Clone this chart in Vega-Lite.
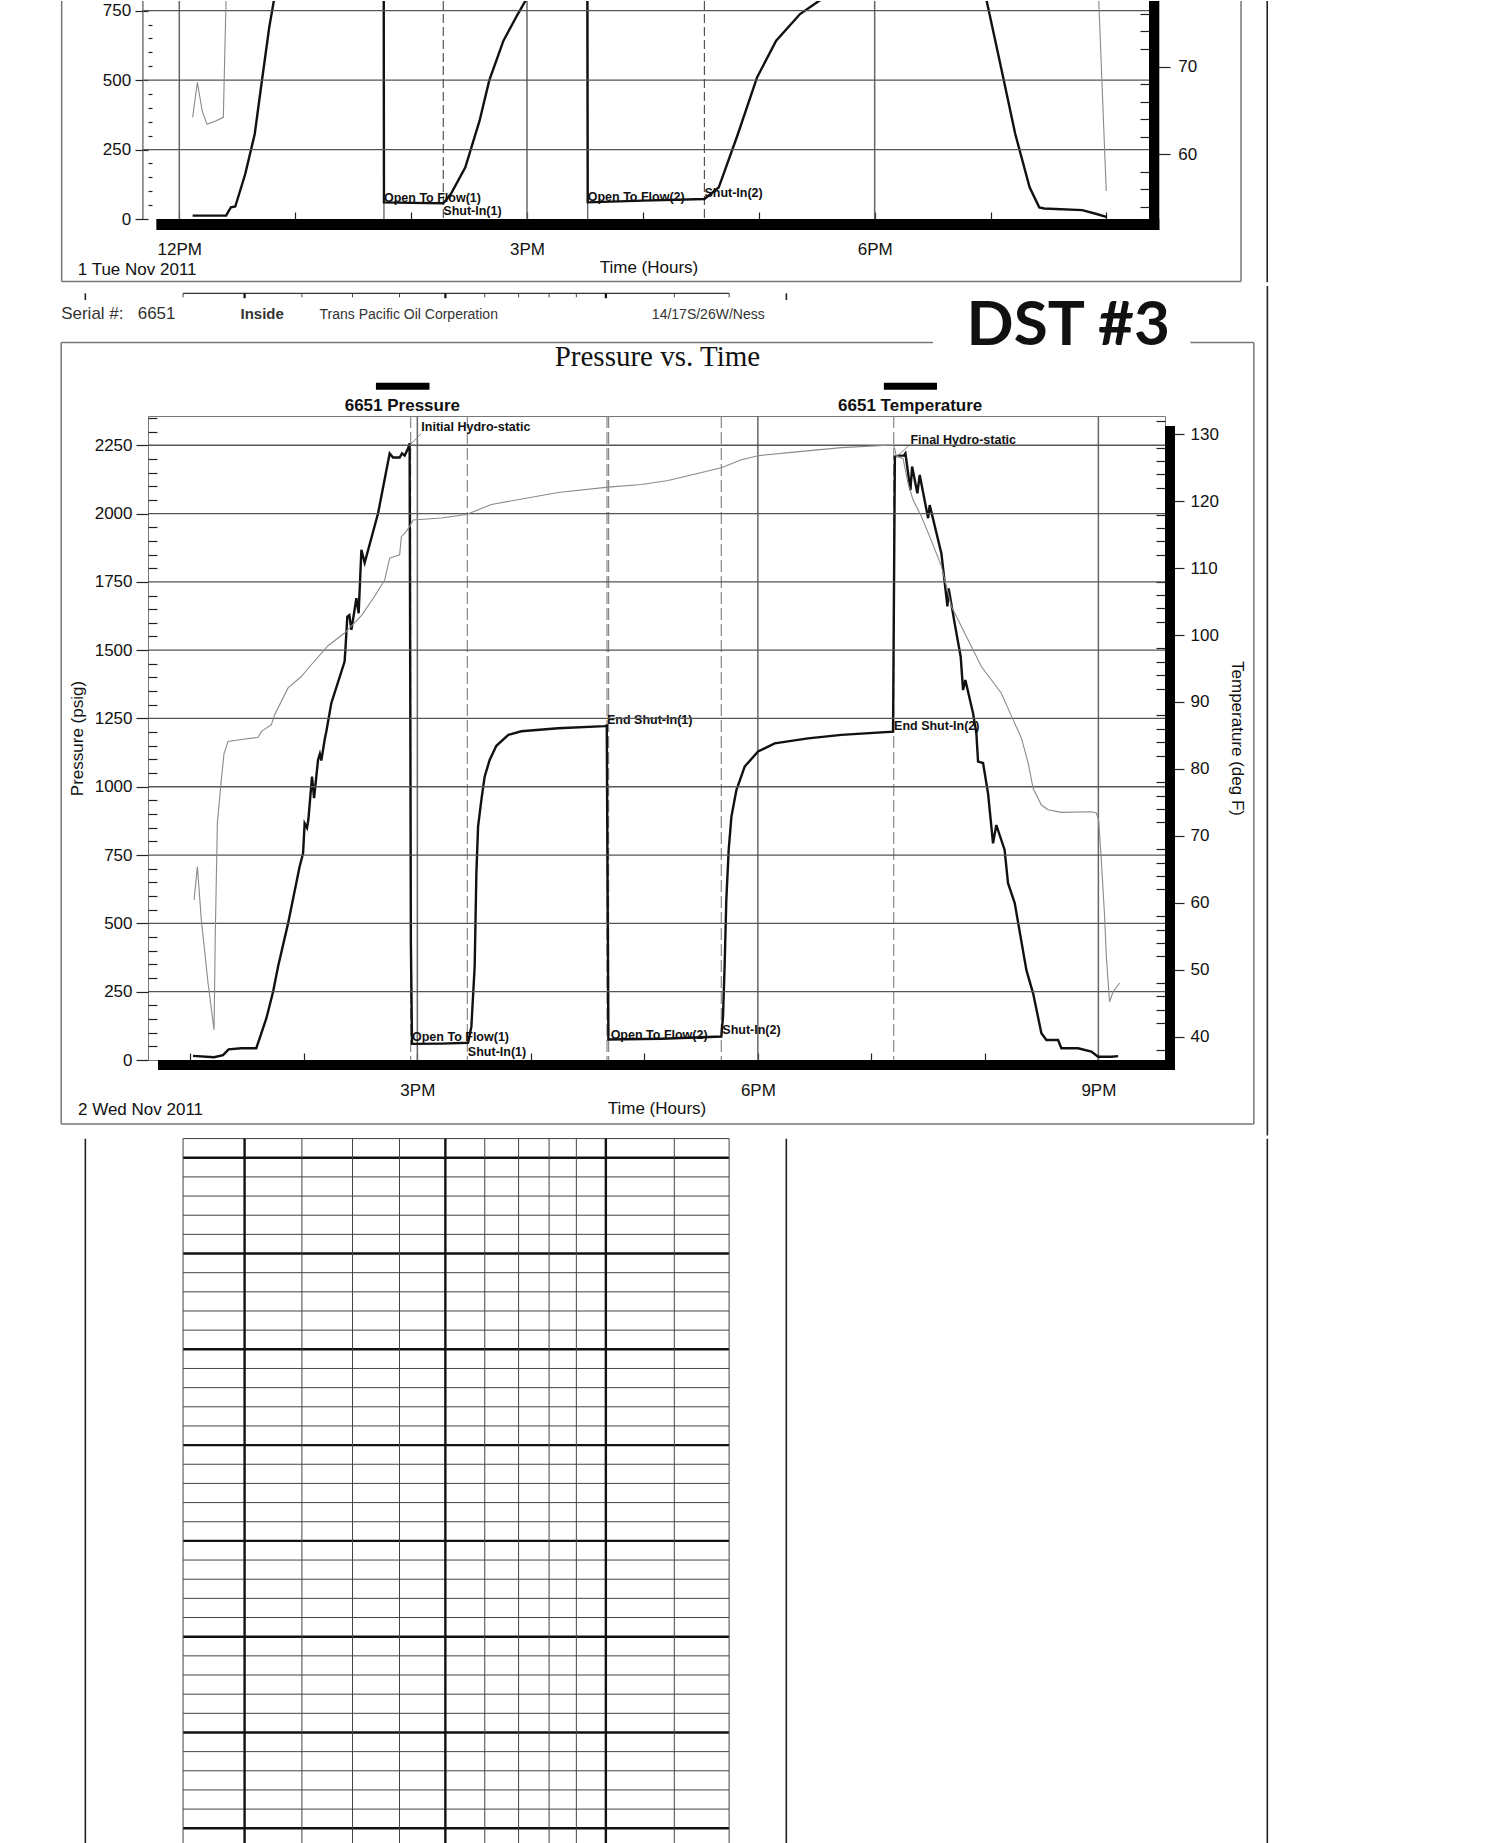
{
"$schema":"https://vega.github.io/schema/vega-lite/v6.json",
"background":"white",
"padding":{"left":59,"top":0,"right":0,"bottom":0},
"spacing":0,
"config":{"view":{"stroke":null},"axis":{"labelFont":"Liberation Sans","titleFont":"Liberation Sans","labelFontSize":17,"titleFontSize":17,"titleFontWeight":"normal","labelColor":"#111","titleColor":"#111","tickColor":"#222","tickWidth":1.2,"domainColor":"#555","labelFlush":false,"labelOverlap":false},"text":{"font":"Liberation Sans","color":"#111"}},
"datasets":{
"p_top":[{"h":12.115,"psi":12},{"h":12.404,"psi":12},{"h":12.445,"psi":42},{"h":12.483,"psi":45},{"h":12.569,"psi":162},{"h":12.651,"psi":306},{"h":12.709,"psi":486},{"h":12.776,"psi":690},{"h":12.816,"psi":786},{"h":12.9,"psi":1000},{"h":13.3,"psi":1700},{"h":13.76,"psi":2150},{"h":13.766,"psi":60},{"h":14.0,"psi":58},{"h":14.278,"psi":57},{"h":14.343,"psi":90},{"h":14.468,"psi":186},{"h":14.591,"psi":354},{"h":14.674,"psi":498},{"h":14.797,"psi":642},{"h":14.921,"psi":738},{"h":14.987,"psi":786},{"h":15.15,"psi":880},{"h":15.52,"psi":960},{"h":15.524,"psi":60},{"h":16.0,"psi":66},{"h":16.531,"psi":72},{"h":16.655,"psi":114},{"h":16.82,"psi":306},{"h":16.985,"psi":510},{"h":17.15,"psi":642},{"h":17.356,"psi":738},{"h":17.522,"psi":786},{"h":17.9,"psi":880},{"h":18.6,"psi":960},{"h":18.62,"psi":2100},{"h":18.85,"psi":1600},{"h":18.966,"psi":786},{"h":19.09,"psi":546},{"h":19.213,"psi":306},{"h":19.337,"psi":114},{"h":19.42,"psi":42},{"h":19.463,"psi":38},{"h":19.791,"psi":32},{"h":19.915,"psi":18},{"h":19.998,"psi":8}],
"t_top":[{"h":12.115,"degF":64.2},{"h":12.156,"degF":68.2},{"h":12.198,"degF":64.9},{"h":12.239,"degF":63.4},{"h":12.319,"degF":63.8},{"h":12.38,"degF":64.2},{"h":12.404,"degF":78},{"h":12.5,"degF":90},{"h":19.9,"degF":90},{"h":19.932,"degF":78},{"h":19.998,"degF":55.8}],
"vlines_top":[{"h":12,"kind":"clock"},{"h":15,"kind":"clock"},{"h":18,"kind":"clock"},{"h":13.766,"kind":"open"},{"h":14.278,"kind":"shut"},{"h":15.524,"kind":"open"},{"h":16.531,"kind":"shut"}],
"hgrid_top":[{"psi":250},{"psi":500},{"psi":750}],
"events_top":[{"h":13.766,"psi":62,"label":"Open To Flow(1)"},{"h":14.278,"psi":15.5,"label":"Shut-In(1)"},{"h":15.524,"psi":64,"label":"Open To Flow(2)"},{"h":16.531,"psi":80,"label":"Shut-In(2)"}],
"p_main":[{"h":13.024,"psi":15},{"h":13.209,"psi":10},{"h":13.288,"psi":18},{"h":13.337,"psi":39},{"h":13.449,"psi":43},{"h":13.581,"psi":43},{"h":13.626,"psi":98},{"h":13.67,"psi":153},{"h":13.729,"psi":250},{"h":13.773,"psi":342},{"h":13.861,"psi":500},{"h":13.963,"psi":708},{"h":13.993,"psi":756},{"h":14.007,"psi":866},{"h":14.028,"psi":850},{"h":14.04,"psi":880},{"h":14.072,"psi":1037},{"h":14.09,"psi":958},{"h":14.125,"psi":1098},{"h":14.141,"psi":1120},{"h":14.154,"psi":1096},{"h":14.183,"psi":1171},{"h":14.198,"psi":1202},{"h":14.242,"psi":1306},{"h":14.359,"psi":1458},{"h":14.366,"psi":1501},{"h":14.383,"psi":1623},{"h":14.401,"psi":1628},{"h":14.419,"psi":1574},{"h":14.463,"psi":1690},{"h":14.483,"psi":1635},{"h":14.507,"psi":1867},{"h":14.536,"psi":1820},{"h":14.654,"psi":2001},{"h":14.756,"psi":2220},{"h":14.786,"psi":2205},{"h":14.844,"psi":2205},{"h":14.865,"psi":2220},{"h":14.888,"psi":2212},{"h":14.918,"psi":2238},{"h":14.932,"psi":2257},{"h":14.943,"psi":430},{"h":14.953,"psi":59},{"h":15.211,"psi":60},{"h":15.447,"psi":63},{"h":15.476,"psi":122},{"h":15.505,"psi":342},{"h":15.52,"psi":683},{"h":15.535,"psi":854},{"h":15.564,"psi":952},{"h":15.593,"psi":1037},{"h":15.637,"psi":1098},{"h":15.696,"psi":1150},{"h":15.802,"psi":1190},{"h":15.916,"psi":1203},{"h":16.24,"psi":1214},{"h":16.65,"psi":1222},{"h":16.669,"psi":1224},{"h":16.671,"psi":1040},{"h":16.683,"psi":75},{"h":17.15,"psi":78},{"h":17.678,"psi":86},{"h":17.693,"psi":159},{"h":17.707,"psi":342},{"h":17.722,"psi":586},{"h":17.743,"psi":769},{"h":17.767,"psi":891},{"h":17.811,"psi":988},{"h":17.884,"psi":1074},{"h":18.002,"psi":1129},{"h":18.148,"psi":1159},{"h":18.442,"psi":1177},{"h":18.736,"psi":1190},{"h":19.191,"psi":1202},{"h":19.207,"psi":2208},{"h":19.239,"psi":2212},{"h":19.286,"psi":2212},{"h":19.3,"psi":2220},{"h":19.344,"psi":2086},{"h":19.359,"psi":2172},{"h":19.405,"psi":2074},{"h":19.426,"psi":2141},{"h":19.5,"psi":1983},{"h":19.514,"psi":2031},{"h":19.617,"psi":1854},{"h":19.67,"psi":1660},{"h":19.681,"psi":1726},{"h":19.734,"psi":1598},{"h":19.787,"psi":1476},{"h":19.808,"psi":1354},{"h":19.828,"psi":1391},{"h":19.896,"psi":1269},{"h":19.925,"psi":1196},{"h":19.94,"psi":1092},{"h":19.984,"psi":1087},{"h":20.028,"psi":976},{"h":20.072,"psi":793},{"h":20.101,"psi":860},{"h":20.174,"psi":769},{"h":20.204,"psi":647},{"h":20.263,"psi":574},{"h":20.366,"psi":329},{"h":20.425,"psi":244},{"h":20.498,"psi":98},{"h":20.542,"psi":73},{"h":20.645,"psi":73},{"h":20.674,"psi":43},{"h":20.821,"psi":43},{"h":20.938,"psi":31},{"h":20.998,"psi":12},{"h":21.115,"psi":12},{"h":21.174,"psi":14}],
"t_main":[{"h":13.033,"degF":60.4},{"h":13.062,"degF":65.4},{"h":13.097,"degF":57.4},{"h":13.156,"degF":48.0},{"h":13.209,"degF":41.0},{"h":13.22,"degF":55.4},{"h":13.238,"degF":71.9},{"h":13.273,"degF":78.4},{"h":13.297,"degF":82.3},{"h":13.332,"degF":84.1},{"h":13.449,"degF":84.4},{"h":13.596,"degF":84.7},{"h":13.626,"degF":85.6},{"h":13.714,"degF":86.6},{"h":13.743,"degF":88.1},{"h":13.861,"degF":92.1},{"h":13.978,"degF":93.8},{"h":14.037,"degF":95.0},{"h":14.213,"degF":98.4},{"h":14.359,"degF":100.3},{"h":14.507,"degF":102.9},{"h":14.624,"degF":105.8},{"h":14.712,"degF":108.2},{"h":14.756,"degF":111.5},{"h":14.844,"degF":112.0},{"h":14.859,"degF":114.7},{"h":14.888,"degF":115.2},{"h":14.932,"degF":116.2},{"h":14.962,"degF":117.2},{"h":15.211,"degF":117.5},{"h":15.432,"degF":118.0},{"h":15.505,"degF":118.5},{"h":15.652,"degF":119.5},{"h":16.24,"degF":121.3},{"h":16.68,"degF":122.1},{"h":16.974,"degF":122.5},{"h":17.209,"degF":123.1},{"h":17.678,"degF":125.0},{"h":17.855,"degF":126.2},{"h":18.002,"degF":126.8},{"h":18.295,"degF":127.3},{"h":18.736,"degF":128.0},{"h":19.191,"degF":128.4},{"h":19.205,"degF":127.9},{"h":19.22,"degF":126.7},{"h":19.279,"degF":126.4},{"h":19.323,"degF":122.7},{"h":19.367,"degF":120.2},{"h":19.441,"degF":117.7},{"h":19.514,"degF":114.7},{"h":19.617,"degF":110.3},{"h":19.705,"degF":104.3},{"h":19.822,"degF":100.3},{"h":19.969,"degF":95.3},{"h":20.145,"degF":91.3},{"h":20.263,"degF":86.8},{"h":20.322,"degF":84.6},{"h":20.381,"degF":80.9},{"h":20.425,"degF":77.1},{"h":20.498,"degF":74.6},{"h":20.557,"degF":73.9},{"h":20.674,"degF":73.5},{"h":20.938,"degF":73.6},{"h":20.982,"degF":73.4},{"h":21.002,"degF":72.4},{"h":21.026,"degF":66.4},{"h":21.055,"degF":57.9},{"h":21.07,"degF":52.0},{"h":21.099,"degF":45.2},{"h":21.129,"degF":46.7},{"h":21.188,"degF":48.0}],
"vlines_main":[{"h":15,"kind":"clock"},{"h":18,"kind":"clock"},{"h":21,"kind":"clock"},{"h":14.941,"kind":"event"},{"h":15.4405,"kind":"event"},{"h":16.671,"kind":"event"},{"h":16.685,"kind":"event"},{"h":17.678,"kind":"event"},{"h":19.197,"kind":"event"}],
"hgrid_main":[{"psi":250},{"psi":500},{"psi":750},{"psi":1000},{"psi":1250},{"psi":1500},{"psi":1750},{"psi":2000},{"psi":2250}],
"events_main":[{"h":15.035,"psi":2301,"label":"Initial Hydro-static"},{"h":19.344,"psi":2255,"label":"Final Hydro-static"},{"h":16.671,"psi":1229,"label":"End Shut-In(1)"},{"h":19.2,"psi":1208,"label":"End Shut-In(2)"},{"h":14.953,"psi":68,"label":"Open To Flow(1)"},{"h":15.445,"psi":15,"label":"Shut-In(1)"},{"h":16.703,"psi":76,"label":"Open To Flow(2)"},{"h":17.687,"psi":94,"label":"Shut-In(2)"}],
"leaders_main":[{"h":14.941,"psi":2254,"h2":15.035,"psi2":2293},{"h":19.22,"psi":2208,"h2":19.337,"psi2":2251}],
"gridcols":[{"h":12.936,"kind":"minor"},{"h":13.478,"kind":"major"},{"h":13.983,"kind":"minor"},{"h":14.429,"kind":"minor"},{"h":14.843,"kind":"minor"},{"h":15.247,"kind":"major"},{"h":15.594,"kind":"minor"},{"h":15.892,"kind":"minor"},{"h":16.161,"kind":"minor"},{"h":16.401,"kind":"minor"},{"h":16.661,"kind":"major"},{"h":17.264,"kind":"minor"},{"h":17.747,"kind":"minor"}],
"gridrows":[{"r":-1,"kind":"minor"},{"r":0,"kind":"major"},{"r":1,"kind":"minor"},{"r":2,"kind":"minor"},{"r":3,"kind":"minor"},{"r":4,"kind":"minor"},{"r":5,"kind":"major"},{"r":6,"kind":"minor"},{"r":7,"kind":"minor"},{"r":8,"kind":"minor"},{"r":9,"kind":"minor"},{"r":10,"kind":"major"},{"r":11,"kind":"minor"},{"r":12,"kind":"minor"},{"r":13,"kind":"minor"},{"r":14,"kind":"minor"},{"r":15,"kind":"major"},{"r":16,"kind":"minor"},{"r":17,"kind":"minor"},{"r":18,"kind":"minor"},{"r":19,"kind":"minor"},{"r":20,"kind":"major"},{"r":21,"kind":"minor"},{"r":22,"kind":"minor"},{"r":23,"kind":"minor"},{"r":24,"kind":"minor"},{"r":25,"kind":"major"},{"r":26,"kind":"minor"},{"r":27,"kind":"minor"},{"r":28,"kind":"minor"},{"r":29,"kind":"minor"},{"r":30,"kind":"major"},{"r":31,"kind":"minor"},{"r":32,"kind":"minor"},{"r":33,"kind":"minor"},{"r":34,"kind":"minor"},{"r":35,"kind":"major"},{"r":36,"kind":"minor"}]
},
"vconcat":[
{
"width":1001,"height":218,
"layer":[
{"layer":[
{"data":{"name":"vlines_top"},"transform":[{"filter":"datum.kind == 'clock'"}],"mark":{"type":"rule","color":"#666","strokeWidth":1.5},"encoding":{"x":{"field":"h","type":"quantitative","scale":{"domain":[11.73,20.367],"nice":false,"zero":false}}}},
{"data":{"name":"vlines_top"},"transform":[{"filter":"datum.kind != 'clock'"}],"mark":{"type":"rule","color":"#555","strokeWidth":1.2},"encoding":{"x":{"field":"h","type":"quantitative","scale":{"domain":[11.73,20.367],"nice":false,"zero":false}},"strokeDash":{"field":"kind","type":"nominal","scale":{"domain":["open","shut"],"range":[[1,0],[9,4]]},"legend":null}}},
{"data":{"values":[{}]},"mark":{"type":"rule","color":"#555","strokeWidth":1.2},"encoding":{"x":{"datum":11.686},"y":{"datum":785,"axis":null},"y2":{"datum":0}}},
{"data":{"values":[{}]},"mark":{"type":"rect","color":"#000"},"encoding":{"x":{"datum":11.802},"x2":{"datum":20.456},"y":{"datum":0,"axis":null},"y2":{"datum":-39.6}}},
{"data":{"values":[{}]},"mark":{"type":"rect","color":"#000"},"encoding":{"x":{"datum":20.367},"x2":{"datum":20.456},"y":{"datum":785,"axis":null},"y2":{"datum":-39.6}}},
{"data":{"name":"p_top"},"mark":{"type":"line","clip":true,"color":"#111","strokeWidth":2.4},"encoding":{
 "x":{"field":"h","type":"quantitative","scale":{"domain":[11.73,20.367],"nice":false,"zero":false},"axis":{"values":[12,13,14,15,16,17,18,19,20],"labelExpr":"datum.value === 12 ? '12PM' : datum.value === 15 ? '3PM' : datum.value === 18 ? '6PM' : ''","tickSize":-7,"labelPadding":29,"title":"Time (Hours)","titlePadding":2,"grid":false,"domain":false}},
 "y":{"field":"psi","type":"quantitative","scale":{"domain":[0,785],"nice":false,"zero":false},"axis":null}}},
{"data":{"name":"events_top"},"mark":{"type":"text","align":"left","baseline":"alphabetic","fontSize":12.5,"fontWeight":"bold"},"encoding":{"x":{"field":"h","type":"quantitative"},"y":{"field":"psi","type":"quantitative","axis":null},"text":{"field":"label"}}},
{"data":{"values":[{}]},"mark":{"type":"rule","color":"#777","strokeWidth":1.5},"encoding":{"x":{"datum":10.985},"y":{"datum":785,"axis":null},"y2":{"datum":-225.5}}},
{"data":{"values":[{}]},"mark":{"type":"rule","color":"#777","strokeWidth":1.5},"encoding":{"x":{"datum":10.985},"x2":{"datum":21.161},"y":{"datum":-225.5,"axis":null}}},
{"data":{"values":[{}]},"mark":{"type":"rule","color":"#777","strokeWidth":1.5},"encoding":{"x":{"datum":21.161},"y":{"datum":785,"axis":null},"y2":{"datum":-225.5}}},
{"data":{"values":[{}]},"mark":{"type":"rule","color":"#222","strokeWidth":1.6},"encoding":{"x":{"datum":21.387},"y":{"datum":785,"axis":null},"y2":{"datum":-227.6}}},
{"data":{"values":[{}]},"mark":{"type":"text","text":"1 Tue Nov 2011","align":"left","baseline":"alphabetic","fontSize":17},"encoding":{"x":{"datum":11.124},"y":{"datum":-200.4,"axis":null}}}
]},
{"data":{"name":"hgrid_top"},"mark":{"type":"rule","color":"#555","strokeWidth":1.3},"encoding":{"x":{"datum":11.686},"x2":{"datum":20.367},
 "y":{"field":"psi","type":"quantitative","scale":{"domain":[0,785],"nice":false,"zero":false},"axis":{"orient":"left","values":[0,50,100,150,200,250,300,350,400,450,500,550,600,650,700,750],"format":"d","labelExpr":"datum.value % 250 === 0 ? datum.label : ''","tickSize":{"condition":{"test":"datum.value % 250 === 0","value":13},"value":-4},"labelPadding":4.4,"title":null,"grid":false,"domain":false}}}},
{"data":{"name":"t_top"},"mark":{"type":"line","clip":true,"color":"#8a8a8a","strokeWidth":1.1},"encoding":{
 "x":{"field":"h","type":"quantitative","scale":{"domain":[11.73,20.367],"nice":false,"zero":false}},
 "y":{"field":"degF","type":"quantitative","scale":{"domain":[52.6,77.48],"nice":false,"zero":false},"axis":{"orient":"right","values":[54,56,58,60,62,64,66,68,70,72,74,76],"format":"d","labelExpr":"datum.value % 10 === 0 ? datum.label : ''","tickSize":{"condition":{"test":"datum.value % 10 === 0","value":21},"value":-9},"labelPadding":7.7,"title":null,"grid":false,"domain":false}}}}
],
"resolve":{"scale":{"y":"independent"},"axis":{"y":"independent"}}
},
{
"width":1017,"height":644,
"view":{"stroke":"#777","strokeWidth":1},
"layer":[
{"layer":[
{"data":{"name":"vlines_main"},"transform":[{"filter":"datum.kind == 'clock'"}],"mark":{"type":"rule","color":"#666","strokeWidth":1.5},"encoding":{"x":{"field":"h","type":"quantitative","scale":{"domain":[12.627,21.587],"nice":false,"zero":false}}}},
{"data":{"name":"vlines_main"},"transform":[{"filter":"datum.kind == 'event'"}],"mark":{"type":"rule","color":"#888","strokeWidth":1.2,"strokeDash":[12,4]},"encoding":{"x":{"field":"h","type":"quantitative","scale":{"domain":[12.627,21.587],"nice":false,"zero":false}}}},
{"data":{"values":[{}]},"mark":{"type":"rect","color":"#000"},"encoding":{"x":{"datum":12.715},"x2":{"datum":21.675},"y":{"datum":0,"axis":null},"y2":{"datum":-36.6}}},
{"data":{"values":[{}]},"mark":{"type":"rect","color":"#000"},"encoding":{"x":{"datum":21.587},"x2":{"datum":21.675},"y":{"datum":2320,"axis":null},"y2":{"datum":-36.6}}},
{"data":{"name":"p_main"},"mark":{"type":"line","clip":true,"color":"#111","strokeWidth":2.4},"encoding":{
 "x":{"field":"h","type":"quantitative","scale":{"domain":[12.627,21.587],"nice":false,"zero":false},"axis":{"values":[13,14,15,16,17,18,19,20,21],"labelExpr":"datum.value === 15 ? '3PM' : datum.value === 18 ? '6PM' : datum.value === 21 ? '9PM' : ''","tickSize":-7,"labelPadding":29,"title":"Time (Hours)","titlePadding":2,"grid":false,"domain":false}},
 "y":{"field":"psi","type":"quantitative","scale":{"domain":[0,2357],"nice":false,"zero":false},"axis":null}}},
{"data":{"name":"events_main"},"mark":{"type":"text","align":"left","baseline":"alphabetic","fontSize":12.5,"fontWeight":"bold"},"encoding":{"x":{"field":"h","type":"quantitative"},"y":{"field":"psi","type":"quantitative","axis":null},"text":{"field":"label"}}},
{"data":{"name":"leaders_main"},"mark":{"type":"rule","color":"#888","strokeWidth":1},"encoding":{"x":{"field":"h","type":"quantitative"},"y":{"field":"psi","type":"quantitative","axis":null},"x2":{"field":"h2"},"y2":{"field":"psi2"}}},
{"data":{"values":[{}]},"mark":{"type":"rule","color":"#777","strokeWidth":1.5},"encoding":{"x":{"datum":11.862},"y":{"datum":2625.7,"axis":null},"y2":{"datum":-234.2}}},
{"data":{"values":[{}]},"mark":{"type":"rule","color":"#777","strokeWidth":1.5},"encoding":{"x":{"datum":11.862},"x2":{"datum":19.544},"y":{"datum":2625.7,"axis":null}}},
{"data":{"values":[{}]},"mark":{"type":"rule","color":"#777","strokeWidth":1.5},"encoding":{"x":{"datum":21.811},"x2":{"datum":22.37},"y":{"datum":2625.7,"axis":null}}},
{"data":{"values":[{}]},"mark":{"type":"rule","color":"#777","strokeWidth":1.5},"encoding":{"x":{"datum":22.37},"y":{"datum":2625.7,"axis":null},"y2":{"datum":-234.2}}},
{"data":{"values":[{}]},"mark":{"type":"rule","color":"#777","strokeWidth":1.5},"encoding":{"x":{"datum":11.862},"x2":{"datum":22.37},"y":{"datum":-234.2,"axis":null}}},
{"data":{"values":[{}]},"mark":{"type":"rule","color":"#222","strokeWidth":1.6},"encoding":{"x":{"datum":22.489},"y":{"datum":2832.5,"axis":null},"y2":{"datum":-276}}},
{"data":{"values":[{}]},"mark":{"type":"rule","color":"#333","strokeWidth":1.2},"encoding":{"x":{"datum":12.936},"x2":{"datum":17.747},"y":{"datum":2806,"axis":null}}},
{"data":{"name":"gridcols"},"transform":[{"filter":"datum.kind == 'minor'"}],"mark":{"type":"rule","color":"#444","strokeWidth":1},"encoding":{"x":{"field":"h","type":"quantitative"},"y":{"datum":2806,"axis":null},"y2":{"datum":2791.5}}},
{"data":{"name":"gridcols"},"transform":[{"filter":"datum.kind == 'major'"}],"mark":{"type":"rule","color":"#111","strokeWidth":2.2},"encoding":{"x":{"field":"h","type":"quantitative"},"y":{"datum":2806,"axis":null},"y2":{"datum":2788}}},
{"data":{"values":[{}]},"mark":{"type":"rule","color":"#222","strokeWidth":1.6},"encoding":{"x":{"datum":12.075},"y":{"datum":2806,"axis":null},"y2":{"datum":2781.6}}},
{"data":{"values":[{}]},"mark":{"type":"rule","color":"#222","strokeWidth":1.6},"encoding":{"x":{"datum":18.251},"y":{"datum":2806,"axis":null},"y2":{"datum":2781.6}}},
{"data":{"values":[{}]},"mark":{"type":"text","text":"Pressure vs. Time","align":"center","baseline":"alphabetic","font":"Liberation Serif","fontSize":29},"encoding":{"x":{"datum":17.115},"y":{"datum":2539,"axis":null}}},
{"data":{"values":[{}]},"mark":{"type":"text","text":"6651 Pressure","align":"center","baseline":"alphabetic","fontSize":17,"fontWeight":"bold"},"encoding":{"x":{"datum":14.868},"y":{"datum":2374.6,"axis":null}}},
{"data":{"values":[{}]},"mark":{"type":"text","text":"6651 Temperature","align":"center","baseline":"alphabetic","fontSize":17,"fontWeight":"bold"},"encoding":{"x":{"datum":19.342},"y":{"datum":2374.6,"axis":null}}},
{"data":{"values":[{}]},"mark":{"type":"rule","color":"#000","strokeWidth":7},"encoding":{"x":{"datum":14.635},"x2":{"datum":15.107},"y":{"datum":2466,"axis":null}}},
{"data":{"values":[{}]},"mark":{"type":"rule","color":"#000","strokeWidth":7},"encoding":{"x":{"datum":19.11},"x2":{"datum":19.578},"y":{"datum":2466,"axis":null}}},
{"data":{"values":[{}]},"mark":{"type":"text","text":"DST #3","align":"left","baseline":"alphabetic","font":"Lato","fontSize":62,"fontWeight":"bold","color":"#111"},"encoding":{"x":{"datum":19.838},"y":{"datum":2615.8,"axis":null}}},
{"data":{"values":[{}]},"mark":{"type":"text","text":"Serial #:\u00a0\u00a0\u00a06651","align":"left","baseline":"alphabetic","fontSize":17,"color":"#333"},"encoding":{"x":{"datum":11.862},"y":{"datum":2711,"axis":null}}},
{"data":{"values":[{}]},"mark":{"type":"text","text":"Inside","align":"left","baseline":"alphabetic","fontSize":15,"fontWeight":"bold","color":"#333"},"encoding":{"x":{"datum":13.442},"y":{"datum":2711,"axis":null}}},
{"data":{"values":[{}]},"mark":{"type":"text","text":"Trans Pacific Oil Corperation","align":"left","baseline":"alphabetic","fontSize":14,"color":"#333"},"encoding":{"x":{"datum":14.138},"y":{"datum":2711,"axis":null}}},
{"data":{"values":[{}]},"mark":{"type":"text","text":"14/17S/26W/Ness","align":"left","baseline":"alphabetic","fontSize":14,"color":"#333"},"encoding":{"x":{"datum":17.066},"y":{"datum":2711,"axis":null}}},
{"data":{"values":[{}]},"mark":{"type":"text","text":"2 Wed Nov 2011","align":"left","baseline":"alphabetic","fontSize":17},"encoding":{"x":{"datum":12.01},"y":{"datum":-201.3,"axis":null}}}
]},
{"data":{"name":"hgrid_main"},"mark":{"type":"rule","color":"#555","strokeWidth":1.3},"encoding":{
 "y":{"field":"psi","type":"quantitative","scale":{"domain":[0,2357],"nice":false,"zero":false},"axis":{"orient":"left","values":[0,50,100,150,200,250,300,350,400,450,500,550,600,650,700,750,800,850,900,950,1000,1050,1100,1150,1200,1250,1300,1350,1400,1450,1500,1550,1600,1650,1700,1750,1800,1850,1900,1950,2000,2050,2100,2150,2200,2250,2300,2350],"format":"d","labelExpr":"datum.value % 250 === 0 ? datum.label : ''","tickSize":{"condition":{"test":"datum.value % 250 === 0","value":12},"value":-9},"labelPadding":4,"title":"Pressure (psig)","titlePadding":8,"grid":false,"domain":false}}}},
{"data":{"name":"t_main"},"mark":{"type":"line","clip":true,"color":"#8a8a8a","strokeWidth":1.1},"encoding":{
 "x":{"field":"h","type":"quantitative","scale":{"domain":[12.627,21.587],"nice":false,"zero":false}},
 "y":{"field":"degF","type":"quantitative","scale":{"domain":[36.5,132.73],"nice":false,"zero":false},"axis":{"orient":"right","values":[38,40,42,44,46,48,50,52,54,56,58,60,62,64,66,68,70,72,74,76,78,80,82,84,86,88,90,92,94,96,98,100,102,104,106,108,110,112,114,116,118,120,122,124,126,128,130,132],"format":"d","labelExpr":"datum.value % 10 === 0 ? datum.label : ''","tickSize":{"condition":{"test":"datum.value % 10 === 0","value":19},"value":-9},"labelPadding":6,"title":"Temperature (deg F)","titlePadding":9,"grid":false,"domain":false}}}}
],
"resolve":{"scale":{"y":"independent"},"axis":{"y":"independent"}}
},
{
"width":1125,"height":710,
"layer":[
{"data":{"name":"gridrows"},"transform":[{"filter":"datum.kind == 'minor'"}],"mark":{"type":"rule","color":"#444","strokeWidth":1},"encoding":{"y":{"field":"r","type":"quantitative","scale":{"domain":[-1.03,36.03],"nice":false,"zero":false,"reverse":true},"axis":null},"x":{"datum":12.936,"scale":{"domain":[12.627,22.539],"nice":false,"zero":false},"axis":null},"x2":{"datum":17.747}}},
{"data":{"name":"gridrows"},"transform":[{"filter":"datum.kind == 'major'"}],"mark":{"type":"rule","color":"#111","strokeWidth":2.4},"encoding":{"y":{"field":"r","type":"quantitative","axis":null},"x":{"datum":12.936,"axis":null},"x2":{"datum":17.747}}},
{"data":{"name":"gridcols"},"transform":[{"filter":"datum.kind == 'minor'"}],"mark":{"type":"rule","color":"#444","strokeWidth":1},"encoding":{"x":{"field":"h","type":"quantitative","axis":null},"y":{"datum":-1,"axis":null},"y2":{"datum":36.03}}},
{"data":{"name":"gridcols"},"transform":[{"filter":"datum.kind == 'major'"}],"mark":{"type":"rule","color":"#111","strokeWidth":2.4},"encoding":{"x":{"field":"h","type":"quantitative","axis":null},"y":{"datum":-1,"axis":null},"y2":{"datum":36.03}}},
{"data":{"values":[{}]},"mark":{"type":"rule","color":"#222","strokeWidth":1.6},"encoding":{"x":{"datum":12.075,"axis":null},"y":{"datum":-0.99,"axis":null},"y2":{"datum":36.03}}},
{"data":{"values":[{}]},"mark":{"type":"rule","color":"#222","strokeWidth":1.6},"encoding":{"x":{"datum":18.251,"axis":null},"y":{"datum":-0.99,"axis":null},"y2":{"datum":36.03}}},
{"data":{"values":[{}]},"mark":{"type":"rule","color":"#222","strokeWidth":1.6},"encoding":{"x":{"datum":22.489,"axis":null},"y":{"datum":-0.99,"axis":null},"y2":{"datum":36.03}}}
]
}
]
}
